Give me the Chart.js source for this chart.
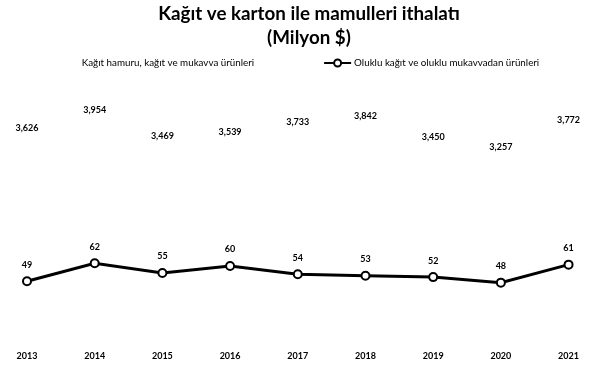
<!DOCTYPE html>
<html>
<head>
<meta charset="utf-8">
<script src="https://cdn.jsdelivr.net/npm/chart.js@4/dist/chart.umd.min.js"></script>
<style>
    html, body { margin: 0; padding: 0; background: #fff; }
    #wrap { width: 591px; height: 381px; }
</style>
</head>
<body>
<div id="wrap"><canvas id="myChart"></canvas></div>
<script>
const years = ['2013', '2014', '2015', '2016', '2017', '2018', '2019', '2020', '2021'],
    paperValues = [3626, 3954, 3469, 3539, 3733, 3842, 3450, 3257, 3772],
    corrugatedValues = [49, 62, 55, 60, 54, 53, 52, 48, 61],
    seriesNames = ['Kağıt hamuru, kağıt ve mukavva ürünleri', 'Oluklu kağıt ve oluklu mukavvadan ürünleri'];

const fmt = new Intl.NumberFormat('en-US');

// value labels above bars and points
const valueLabels = {
    id: 'valueLabels',
    afterDatasetsDraw(chart) {
        const ctx = chart.ctx;
        ctx.save();
        ctx.fillStyle = '#000';
        ctx.textAlign = 'center';
        ctx.textBaseline = 'bottom';
        ctx.font = 'bold 9px Lato';
        chart.data.datasets.forEach((ds, i) => {
            const meta = chart.getDatasetMeta(i);
            const gap = ds.type === 'line' ? 12 : 3;
            meta.data.forEach((el, j) => {
                ctx.fillText(fmt.format(ds.data[j]), el.x, el.y - gap);
            });
        });
        ctx.restore();
    }
};

// one-row legend under the title: blank key for bars, line+circle key for the line
const seriesLegend = {
    id: 'seriesLegend',
    afterDraw(chart) {
        const ctx = chart.ctx;
        const y = 63, key = 27, gapText = 3, gapItems = 70;
        ctx.save();
        ctx.font = '9.8px Lato';
        ctx.fillStyle = '#000';
        ctx.textBaseline = 'middle';
        const w1 = ctx.measureText(seriesNames[0]).width;
        const w2 = ctx.measureText(seriesNames[1]).width;
        const total = key + gapText + w1 + gapItems + key + gapText + w2;
        let x = chart.width / 2 - total / 2;
        x += key + gapText;
        ctx.fillText(seriesNames[0], x, y);
        x += w1 + gapItems;
        ctx.strokeStyle = '#000';
        ctx.lineWidth = 2;
        ctx.beginPath();
        ctx.moveTo(x, y);
        ctx.lineTo(x + key, y);
        ctx.stroke();
        ctx.fillStyle = '#fff';
        ctx.beginPath();
        ctx.arc(x + key / 2, y, 3.5, 0, Math.PI * 2);
        ctx.fill();
        ctx.stroke();
        ctx.fillStyle = '#000';
        ctx.fillText(seriesNames[1], x + key + gapText, y);
        ctx.restore();
    }
};

const ctx = document.getElementById('myChart');
const myChart = new Chart(ctx, {
    data: {
        labels: years,
        datasets: [{
            type: 'bar',
            label: seriesNames[0],
            data: paperValues,
            yAxisID: 'yBar',
            backgroundColor: '#fff',
            borderWidth: 0,
            order: 2
        }, {
            type: 'line',
            label: seriesNames[1],
            data: corrugatedValues,
            yAxisID: 'yLine',
            borderColor: '#000',
            borderWidth: 3,
            pointRadius: 4,
            pointBorderWidth: 2,
            pointBackgroundColor: '#fff',
            pointBorderColor: '#000',
            tension: 0,
            order: 1
        }]
    },
    options: {
        responsive: true,
        maintainAspectRatio: false,
        animation: false,
        layout: { padding: { left: 27, right: 0, top: 2, bottom: 8 } },
        plugins: {
            title: {
                display: true,
                text: ['Kağıt ve karton ile mamulleri ithalatı', '(Milyon $)'],
                color: '#000',
                font: { family: 'Lato', size: 18.8, weight: 'bold', lineHeight: 1.28 },
                padding: { top: 0, bottom: 30 }
            },
            legend: { display: false },
            tooltip: { enabled: false }
        },
        scales: {
            x: {
                offset: false,
                grid: { display: false },
                border: { display: false },
                ticks: { color: '#000', font: { family: 'Lato', size: 9, weight: 'bold' }, padding: 12 }
            },
            yBar: {
                display: false,
                min: -100,
                max: 4678
            },
            yLine: {
                display: false,
                position: 'right',
                min: 13.7,
                max: 194.1
            }
        }
    },
    plugins: [valueLabels, seriesLegend]
});
</script>
</body>
</html>
